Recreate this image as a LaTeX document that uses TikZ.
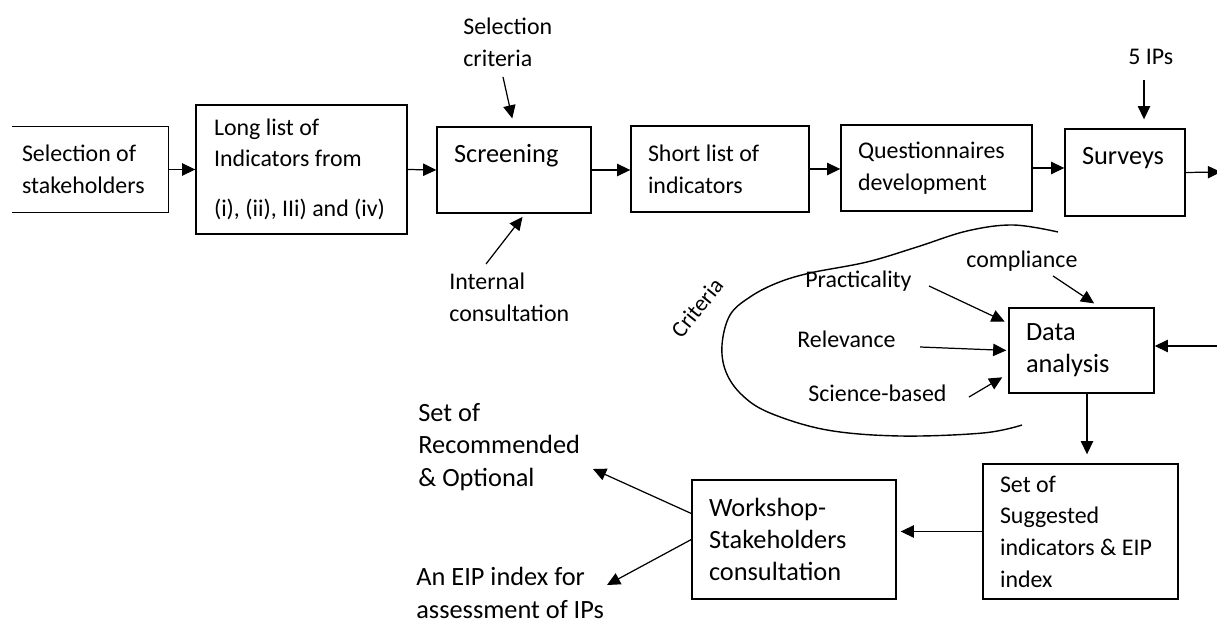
\documentclass[tikz,border=0pt]{standalone}
\usepackage{fontspec}
\setmainfont{Carlito}
\usetikzlibrary{arrows.meta, calc}

\newcommand{\flowtext}{\fontsize{13.6}{18}\selectfont}
\newcommand{\flowbig}{\fontsize{15}{18.3}\selectfont}
\newcommand{\flowsmall}{\fontsize{13}{14}\selectfont}

\begin{document}
\begin{tikzpicture}[x=0.02cm, y=-0.02cm,
	box/.style={draw, line width=0.8pt, align=flush left, inner xsep=0.34cm, inner ysep=0pt, font=\flowtext},
	lbl/.style={align=flush left, inner sep=0pt, anchor=west, font=\flowtext},
	arr/.style={-{Triangle[length=7.5pt,width=7pt]}, line width=0.7pt}]
	
	\fill[white] (0,0) rectangle (1217,624);
	\useasboundingbox (0,0) rectangle (1217,624);
	
	% Top row of steps
	\node[box, draw=none, inner xsep=0.18cm, text width=2.74cm, minimum height=1.70cm] (sel) at (90.5,169.5) {Selection of\\stakeholders};
	\draw[line width=0.8pt] (sel.north west) -- (sel.north east) -- (sel.south east) -- (sel.south west);
	\node[box, inner xsep=0.36cm, text width=3.50cm, minimum height=2.58cm] (long) at (301.5,169.5) {Long list of\\Indicators from\\[10.5pt]\mbox{(i), (ii), IIi) and (iv)}};
	\node[box, font=\flowbig, text width=2.40cm, minimum height=1.72cm] (scr) at (514,170) {Screening\\~};
	\node[box, text width=2.88cm, minimum height=1.72cm] (short) at (720,169) {Short list of\\indicators};
	\node[box, text width=3.14cm, minimum height=1.72cm] (quest) at (936.5,168) {Questionnaires\\development};
	\node[box, font=\flowbig, text width=1.72cm, minimum height=1.74cm] (surv) at (1125,172.5) {Surveys\\~};
	\coordinate (outR) at (1221,172);
	
	\draw[arr] (sel.east) -- (long.west);
	\draw[arr] (long.east) -- (scr.west);
	\draw[arr] (scr.east) -- (scr.east -| short.west);
	\draw[arr] (short.east) -- (short.east -| quest.west);
	\draw[arr] (quest.east) -- (quest.east -| surv.west);
	\draw[arr] (surv.east) -- (outR);
	
	% Inputs to the top row
	\node[lbl] (crit) at (463,42) {Selection\\criteria};
	\coordinate (critA) at (503,77);
	\draw[arr, shorten >=0.16cm] (critA) -- (scr.north);
	
	\node[lbl] (intc) at (449,297) {Internal\\consultation};
	\coordinate (intcA) at (486,264);
	\draw[arr, shorten >=0.08cm] (intcA) -- ([xshift=0.22cm]scr.south);
	
	\node[lbl] (ips) at (1128,57) {5 IPs};
	\coordinate (ipsA) at (1144,80);
	\draw[arr, shorten >=0.18cm] (ipsA) -- (ipsA |- surv.north);
	
	% Criteria loop
	\draw[line width=0.8pt] plot[smooth, tension=0.6] coordinates {(1058,232) (1013,225) (967,231) (917,247) (867,262) (810,273) (777,283) (750,297) (730,315) (722,345) (726,372) (742,395) (770,413) (827,430) (900,436) (983,433) (1022,425)};
	\node[font=\flowsmall, rotate=51] (critlbl) at (697,308) {Criteria};
	
	% Data analysis
	\node[box, font=\flowbig, text width=2.22cm, minimum height=1.70cm] (data) at (1081.5,350.5) {Data\\analysis};
	\node[lbl] (comp) at (966,261) {compliance};
	\node[lbl] (prac) at (805,281) {Practicality};
	\node[lbl] (relv) at (797,339) {Relevance};
	\node[lbl] (sci) at (808,393) {Science-based};
	\coordinate (compA) at (1053,276);
	\coordinate (pracA) at (929,286);
	\coordinate (relvA) at (920,347);
	\coordinate (sciA) at (969,397);
	\coordinate (inR) at (1217,346);
	
	\draw[arr, shorten >=0.14cm] (compA) -- ([xshift=0.37cm]data.north);
	\draw[arr, shorten >=0.08cm] (pracA) -- ([yshift=-0.32cm]data.north west);
	\draw[arr, shorten >=0.04cm] (relvA) -- (data.west);
	\draw[arr, shorten >=0.14cm] (sciA) -- ([yshift=0.4cm]data.south west);
	\draw[arr] (inR) -- (inR -| data.east);
	
	% Bottom row
	\node[box, text width=3.22cm, minimum height=2.70cm] (sugg) at (1080.5,531.5) {Set of\\Suggested\\indicators \& EIP\\index};
	\node[box, font=\flowbig, text width=3.40cm, minimum height=2.38cm] (work) at (794,539.5) {Workshop-\\Stakeholders\\consultation};
	\node[lbl, font=\flowbig] (rec) at (418,447) {Set of\\Recommended\\\& Optional};
	\node[lbl, font=\flowbig] (eip) at (416,593) {An EIP index for\\assessment of IPs};
	\coordinate (recTip) at (593,469);
	\coordinate (eipTip) at (607,585);
	
	\draw[arr, shorten >=0.18cm] ([xshift=0.11cm]data.south) -- ([xshift=0.11cm]data.south |- sugg.north);
	\draw[arr, shorten >=0.08cm] (sugg.west) -- (sugg.west -| work.east);
	\draw[arr] ([yshift=0.52cm]work.west) -- (recTip);
	\draw[arr] (work.west) -- (eipTip);
	
\end{tikzpicture}
\end{document}
